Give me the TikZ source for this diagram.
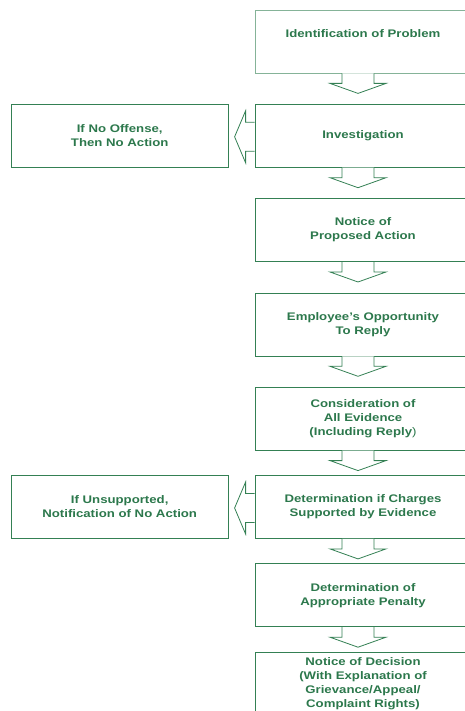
\documentclass[tikz,border=0pt]{standalone}
\usepackage{fontspec}
\setmainfont[FakeStretch=1.2]{Liberation Sans}
\usepackage{xcolor}
\usetikzlibrary{positioning}

\definecolor{boxgreen}{RGB}{52,128,84}
\definecolor{textgreen}{RGB}{44,120,76}

\begin{document}
\begin{tikzpicture}[node distance={30.5pt}, thin,
    main/.style = {draw=boxgreen, line width=0.8pt, minimum width=216pt, minimum height=63pt,
                   align=center, text=textgreen, font=\fontsize{11}{14}\selectfont\bfseries},
    side/.style = {main, minimum width=217pt},
    arr/.style = {draw=boxgreen, line width=0.8pt, fill=white}]
        \useasboundingbox (0,0) rectangle (465pt,-711pt);
        \clip (0,0) rectangle (465pt,-711pt);

        \node[main, draw=boxgreen!60, text depth=16pt] (prob) at (363pt,-41.5pt) {Identification of Problem};
        \node[main] (inv) [below=of prob] {Investigation};
        \node[main] (notice) [below=of inv] {Notice of\\Proposed Action};
        \node[main] (reply) [below=of notice] {Employee's Opportunity\\To Reply};
        \node[main] (cons) [below=of reply] {Consideration of\\All Evidence\\(Including Reply\textmd{)}};
        \node[main] (det) [below=24.5pt of cons] {Determination if Charges\\Supported by Evidence};
        \node[main] (pen) [below=24.5pt of det] {Determination of\\Appropriate Penalty};
        \node[main] (dec) [below=24.5pt of pen] {Notice of Decision\\(With Explanation of\\Grievance/Appeal/\\Complaint Rights)};

        \node[side] (nooff) [left=26pt of inv] {If No Offense,\\Then No Action};
        \node[side] (unsup) [left=26pt of det] {If Unsupported,\\Notification of No Action};

        % down arrows
        \foreach \a in {prob,inv,notice,reply,cons,det,pen}
            \draw[arr] ([xshift=-21pt]\a.south) -- ++(0,-10pt) -- ++(-12pt,0) -- ++(28pt,-10pt)
                -- ++(28pt,10pt) -- ++(-12pt,0) -- ++(0,10pt);

        % side arrows
        \foreach \a in {inv,det}
            \draw[arr] ([yshift=13.5pt]\a.west) -- ++(-9pt,0) -- ++(0,11.5pt) -- ++(-11pt,-26pt)
                -- ++(11pt,-26pt) -- ++(0,11.5pt) -- ++(9pt,0);
    \end{tikzpicture}
\end{document}
